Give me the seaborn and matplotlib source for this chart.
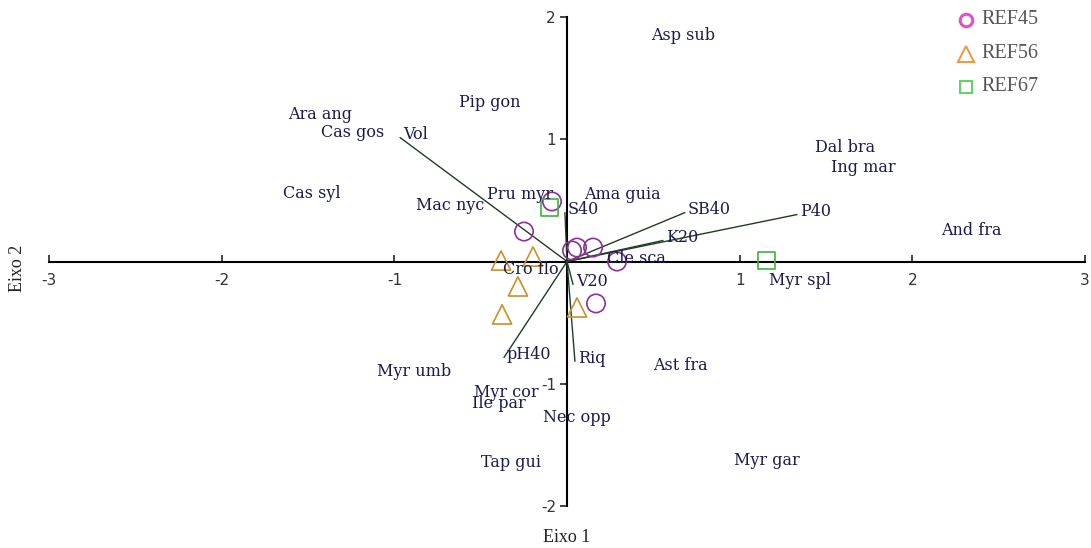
import matplotlib
matplotlib.use("Agg")
import matplotlib.pyplot as plt
from matplotlib.lines import Line2D
import seaborn as sns
import pandas as pd

# Species scores (axis 1, axis 2)
species = ["Asp sub", "Pip gon", "Ara ang", "Cas gos", "Dal bra", "Ing mar", "Cas syl",
           "Mac nyc", "Pru myr", "Ama guia", "And fra", "Cle sca", "Cro flo", "Myr spl",
           "Ast fra", "Myr umb", "Myr cor", "Ile par", "Nec opp", "Tap gui", "Myr gar"]
species_x = [0.672, -0.446, -1.430, -1.239, 1.610, 1.714, -1.477,
             -0.677, -0.272, 0.318, 2.339, 0.400, -0.208, 1.349,
             0.654, -0.886, -0.353, -0.394, 0.058, -0.324, 1.158]
species_y = [1.848, 1.300, 1.202, 1.055, 0.932, 0.769, 0.556,
             0.458, 0.548, 0.548, 0.253, 0.025, -0.065, -0.155,
             -0.850, -0.899, -1.071, -1.161, -1.276, -1.644, -1.627]

# Environmental vectors
env = ["Vol", "S40", "SB40", "P40", "K20", "V20", "Riq", "pH40"]
env_x = [-0.967, -0.012, 0.683, 1.332, 0.556, 0.035, 0.046, -0.365]
env_y = [1.014, 0.400, 0.400, 0.384, 0.172, -0.188, -0.817, -0.785]

# Site scores by reference group
ref45_x = [-0.087, -0.249, 0.029, 0.058, 0.151, 0.290, 0.168]
ref45_y = [0.491, 0.245, 0.090, 0.114, 0.114, 0.000, -0.343]
ref56_x = [-0.382, -0.197, -0.284, -0.376, 0.058]
ref56_y = [0.008, 0.041, -0.204, -0.433, -0.376]
ref67_x = [-0.104, 1.158]
ref67_y = [0.442, 0.008]

groups = ["REF45", "REF56", "REF67"]
x_ticks = [-3, -2, -1, 1, 2, 3]
y_ticks = [-2, -1, 1, 2]

sites = pd.DataFrame({
    "x": ref45_x + ref56_x + ref67_x,
    "y": ref45_y + ref56_y + ref67_y,
    "grp": [groups[0]] * len(ref45_x) + [groups[1]] * len(ref56_x) + [groups[2]] * len(ref67_x),
})

sns.set_style("white")
fig = plt.figure(figsize=(10.91, 5.48), dpi=100)
ax = fig.add_axes([49 / 1091, 1 - 506 / 548, 1036 / 1091, 489 / 548])
ax.set_xlim(-3, 3)
ax.set_ylim(-2, 2)

# Axes crossing at the origin
for side in ("top", "right"):
    ax.spines[side].set_visible(False)
for side in ("left", "bottom"):
    ax.spines[side].set_position("zero")
    ax.spines[side].set_color("black")
    ax.spines[side].set_linewidth(1.5)
    ax.spines[side].set_zorder(1)

ax.set_xticks(x_ticks)
ax.set_yticks(y_ticks)
ax.set_xticklabels([str(t) for t in x_ticks])
ax.set_yticklabels([str(t) for t in y_ticks])
ax.tick_params(axis="x", direction="in", length=5, width=1.2, pad=8,
               labelsize=11, labelcolor="#333333", bottom=True)
ax.tick_params(axis="y", direction="out", length=5, width=1.2, pad=3,
               labelsize=11, labelcolor="#333333", left=True)

# Environmental vectors
vec_color = "#1f3d24"
for name, vx, vy in zip(env, env_x, env_y):
    ax.plot([0, vx], [0, vy], color=vec_color, lw=1.0, zorder=2)
    ax.annotate(name, (vx, vy), xytext=(2, 2), textcoords="offset points",
                ha="left", va="center", fontsize=11.5, family="DejaVu Serif",
                color="#1b1b4f", zorder=4)

# Species labels
for name, sx, sy in zip(species, species_x, species_y):
    ax.text(sx, sy, name, ha="center", va="center", fontsize=11.5,
            family="DejaVu Serif", color="#1b1b4f", zorder=4)

# Site markers
styles = {
    "REF45": dict(marker="o", color="#8a3296", s=175),
    "REF56": dict(marker="^", color="#c6922c", s=190),
    "REF67": dict(marker="s", color="#3cb43c", s=150),
}
for g in groups:
    st = styles[g]
    sub = sites[sites["grp"] == g]
    sns.scatterplot(data=sub, x="x", y="y", marker=st["marker"], s=st["s"],
                    facecolors="none", edgecolor=st["color"], linewidth=1.2,
                    ax=ax, zorder=3, legend=False)
ax.set_xlabel("")
ax.set_ylabel("")

# Axis titles
fig.text(567 / 1091, 1 - 537 / 548, "Eixo 1", ha="center", va="center",
         fontsize=13, family="Liberation Serif", color="#222222")
fig.text(18 / 1091, 1 - 268 / 548, "Eixo 2", ha="center", va="center",
         rotation=90, fontsize=13, family="Liberation Serif", color="#222222")

# Legend
leg_y = [20, 54, 87]
leg_marker = [("o", "#e052c0", 9, 2.2), ("^", "#f5953a", 11, 1.4), ("s", "#5fd35f", 8, 1.4)]
for g, yy, (mk, col, ms, mw) in zip(groups, leg_y, leg_marker):
    fy = 1 - yy / 548
    fig.add_artist(Line2D([966 / 1091], [fy], marker=mk, markersize=ms, markerfacecolor="none",
                          markeredgecolor=col, markeredgewidth=mw, linestyle="none",
                          transform=fig.transFigure))
    fig.text(981 / 1091, fy, g, ha="left", va="center", fontsize=14.5,
             family="Liberation Serif", color="#555555")

fig.savefig("out.png", dpi=100)
